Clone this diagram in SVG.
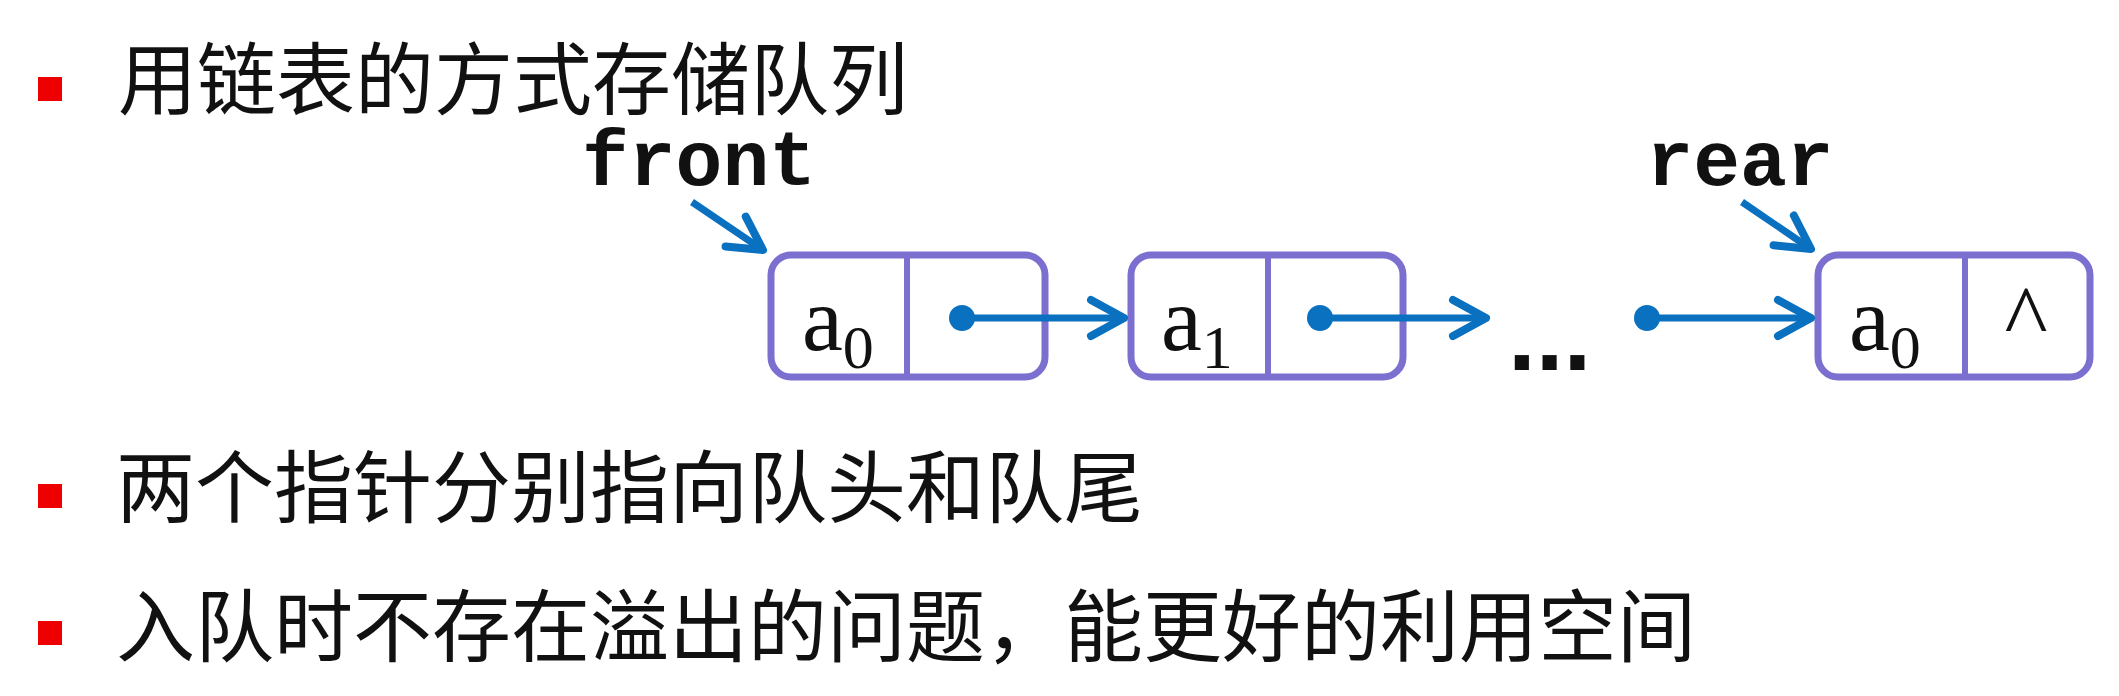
<svg xmlns="http://www.w3.org/2000/svg" width="2119" height="696" viewBox="0 0 2119 696">
<style>
.cn{font-family:"Noto Sans CJK SC","Noto Sans",sans-serif;font-size:79px;fill:#111;}
.bul{fill:#EE0000;}
.box{fill:none;stroke:#7B6FCF;stroke-width:7;}
.div{stroke:#7B6FCF;stroke-width:6;}
.val{font-family:"Liberation Serif","Times New Roman",serif;font-size:92px;fill:#111;}
.sub{font-size:62px;}
.ptr{font-family:"Liberation Mono","Courier New",monospace;font-weight:bold;font-size:78px;fill:#111;}
.link{stroke:#0A70C0;stroke-width:7;fill:none;}
.dot{fill:#0A70C0;}
</style>
<defs>
<marker id="ah" markerUnits="userSpaceOnUse" markerWidth="60" markerHeight="60" viewBox="-45 -30 60 60" refX="0" refY="0" orient="auto">
<path d="M -33 -18 L 0 0 L -33 18" fill="none" stroke="#0A70C0" stroke-width="8" stroke-linejoin="round" stroke-linecap="round"/>
</marker>
</defs>
<rect width="2119" height="696" fill="#FFFFFF"/>
<g id="bullets">
<rect class="bul" x="38" y="77" width="24" height="24"/>
<rect class="bul" x="38" y="484" width="24" height="24"/>
<rect class="bul" x="38" y="621" width="24" height="24"/>
</g>
<g id="texts">
<text class="cn" x="118" y="109">用链表的方式存储队列</text>
<text class="cn" x="116" y="517">两个指针分别指向队头和队尾</text>
<text class="cn" x="116" y="656">入队时不存在溢出的问题，能更好的利用空间</text>
</g>
<g id="front">
<text class="ptr" x="699" y="185" text-anchor="middle">front</text>
</g>
<g id="rear">
<text class="ptr" x="1740" y="185" text-anchor="middle">rear</text>
</g>
<g id="node1">
<rect class="box" x="771" y="255" width="274" height="122" rx="20"/>
<line class="div" x1="907" y1="255" x2="907" y2="377"/>
<text class="val" x="802" y="350">a<tspan class="sub" dy="18">0</tspan></text>
</g>
<g id="node2">
<rect class="box" x="1131" y="255" width="272" height="122" rx="20"/>
<line class="div" x1="1268" y1="255" x2="1268" y2="377"/>
<text class="val" x="1161" y="350">a<tspan class="sub" dy="18">1</tspan></text>
</g>
<g id="ellipsis">
<text x="1508" y="370" font-family="'Liberation Sans',Arial,sans-serif" font-weight="bold" font-size="100" fill="#111">...</text>
</g>
<g id="node3">
<rect class="box" x="1818" y="255" width="272" height="122" rx="20"/>
<line class="div" x1="1965" y1="255" x2="1965" y2="377"/>
<text class="val" x="1849" y="350">a<tspan class="sub" dy="18">0</tspan></text>
<text class="val" x="2026" y="348" font-size="85" text-anchor="middle">^</text>
</g>
<g id="connectors">
<line class="link" x1="692" y1="202" x2="763" y2="250" marker-end="url(#ah)"/>
<line class="link" x1="1742" y1="202" x2="1811" y2="249" marker-end="url(#ah)"/>
<circle class="dot" cx="962" cy="318" r="13"/>
<line class="link" x1="962" y1="318" x2="1124" y2="318" marker-end="url(#ah)"/>
<circle class="dot" cx="1320" cy="318" r="13"/>
<line class="link" x1="1320" y1="318" x2="1486" y2="318" marker-end="url(#ah)"/>
<circle class="dot" cx="1647" cy="318" r="13"/>
<line class="link" x1="1647" y1="318" x2="1811" y2="318" marker-end="url(#ah)"/>
</g>
</svg>
